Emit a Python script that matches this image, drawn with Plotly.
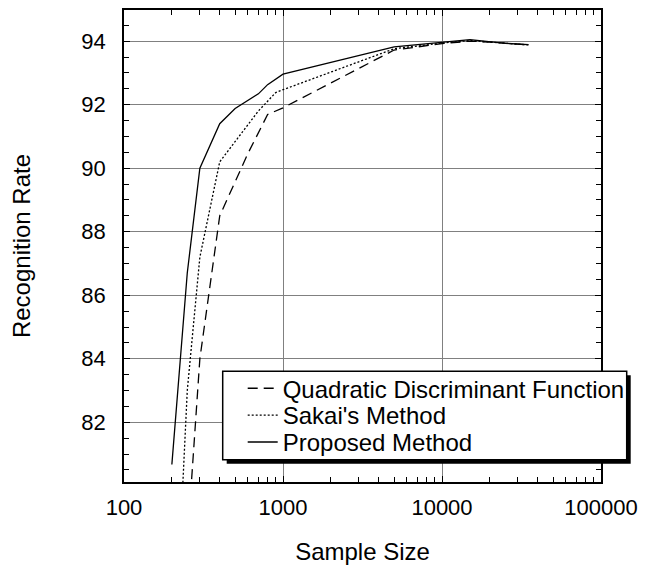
import plotly.graph_objects as go

# ---- data ----
qdf_x = [250, 300, 400, 600, 800, 1000, 5000, 10000, 15000, 20000, 35000]
qdf_y = [78.2, 84.0, 88.5, 90.45, 91.69, 91.9, 93.72, 93.92, 94.0, 93.97, 93.88]

sakai_x = [200, 250, 300, 400, 700, 900, 1000, 5000, 10000, 15000, 20000, 35000]
sakai_y = [72.8, 83.0, 87.2, 90.2, 91.8, 92.38, 92.47, 93.76, 93.94, 94.02, 93.97, 93.88]

prop_x = [200, 250, 300, 400, 500, 700, 800, 1000, 5000, 10000, 15000, 25000, 35000]
prop_y = [80.67, 86.7, 90.0, 91.4, 91.88, 92.34, 92.63, 92.96, 93.82, 93.97, 94.05, 93.93, 93.89]

series_names = ["Quadratic Discriminant Function", "Sakai's Method", "Proposed Method"]
x_tickvals = [100, 1000, 10000, 100000]
x_ticktext = ["100", "1000", "10000", "100000"]
x_minor = [m * d for d in (100, 1000, 10000) for m in range(2, 10)]
y_tickvals = [82, 84, 86, 88, 90, 92, 94]

FONT = "Liberation Sans, Arial, sans-serif"

# The page body has an 8px margin, so the figure is sized to fit the window.
W, H = 642, 561
OFF = 8
PL, PR, PT, PB = 124.3, 601.3, 8.0, 482.3   # plot area in window pixels

def px2paper_x(px):
    return (px - PL) / (PR - PL)

def py2paper_y(py):
    return (PB - py) / (PB - PT)

fig = go.Figure()
fig.add_trace(go.Scatter(x=qdf_x, y=qdf_y, mode="lines", name=series_names[0],
                         legend="legend",
                         line=dict(color="black", width=1.3, dash="10px,6px")))
fig.add_trace(go.Scatter(x=sakai_x, y=sakai_y, mode="lines", name=series_names[1],
                         legend="legend2",
                         line=dict(color="black", width=1.3, dash="2px,2px")))
fig.add_trace(go.Scatter(x=prop_x, y=prop_y, mode="lines", name=series_names[2],
                         legend="legend3",
                         line=dict(color="black", width=1.3)))

# legend box with drop shadow
fig.add_shape(type="rect", xref="paper", yref="paper", layer="above",
              x0=px2paper_x(227), x1=px2paper_x(631), y0=py2paper_y(464), y1=py2paper_y(375),
              fillcolor="black", line=dict(width=0))
fig.add_shape(type="rect", xref="paper", yref="paper", layer="above",
              x0=px2paper_x(223), x1=px2paper_x(627), y0=py2paper_y(460), y1=py2paper_y(371),
              fillcolor="white", line=dict(color="black", width=1.5))

def leg(row_center_py):
    return dict(x=px2paper_x(243), y=py2paper_y(row_center_py), xanchor="left", yanchor="middle",
                bgcolor="rgba(0,0,0,0)", borderwidth=0,
                font=dict(family=FONT, size=24, color="black"))

fig.update_layout(
    width=W, height=H,
    margin=dict(l=PL - OFF, r=W - (PR - OFF), t=PT - OFF, b=H - (PB - OFF), pad=0),
    paper_bgcolor="white", plot_bgcolor="white",
    font=dict(family=FONT, color="black", size=22),
    showlegend=True,
    legend=leg(388.5),
    legend2=leg(415.5),
    legend3=leg(442.5),
)

fig.update_xaxes(
    type="log", range=[2, 5],
    tickmode="array", tickvals=x_tickvals, ticktext=x_ticktext,
    ticks="inside", ticklen=6, tickcolor="black", tickwidth=1,
    showline=True, linecolor="black", linewidth=1.5, mirror="ticks",
    showgrid=True, gridcolor="#808080", gridwidth=1,
    zeroline=False, ticklabelstandoff=5,
    tickfont=dict(size=22),
    minor=dict(tickmode="array", tickvals=x_minor, ticks="inside", ticklen=5,
               tickcolor="black", showgrid=False),
    title=dict(text="Sample Size", font=dict(size=24), standoff=24),
)
fig.update_yaxes(
    range=[80.12, 94.98],
    tickmode="array", tickvals=y_tickvals,
    ticks="inside", ticklen=6, tickcolor="black", tickwidth=1,
    showline=True, linecolor="black", linewidth=1.5, mirror="ticks",
    showgrid=True, gridcolor="#808080", gridwidth=1,
    zeroline=False, ticklabelstandoff=12,
    tickfont=dict(size=22),
    minor=dict(dtick=0.5, ticks="inside", ticklen=5, tickcolor="black", showgrid=False),
    title=dict(text="Recognition Rate", font=dict(size=24), standoff=45),
)

fig.write_html("out.html")
